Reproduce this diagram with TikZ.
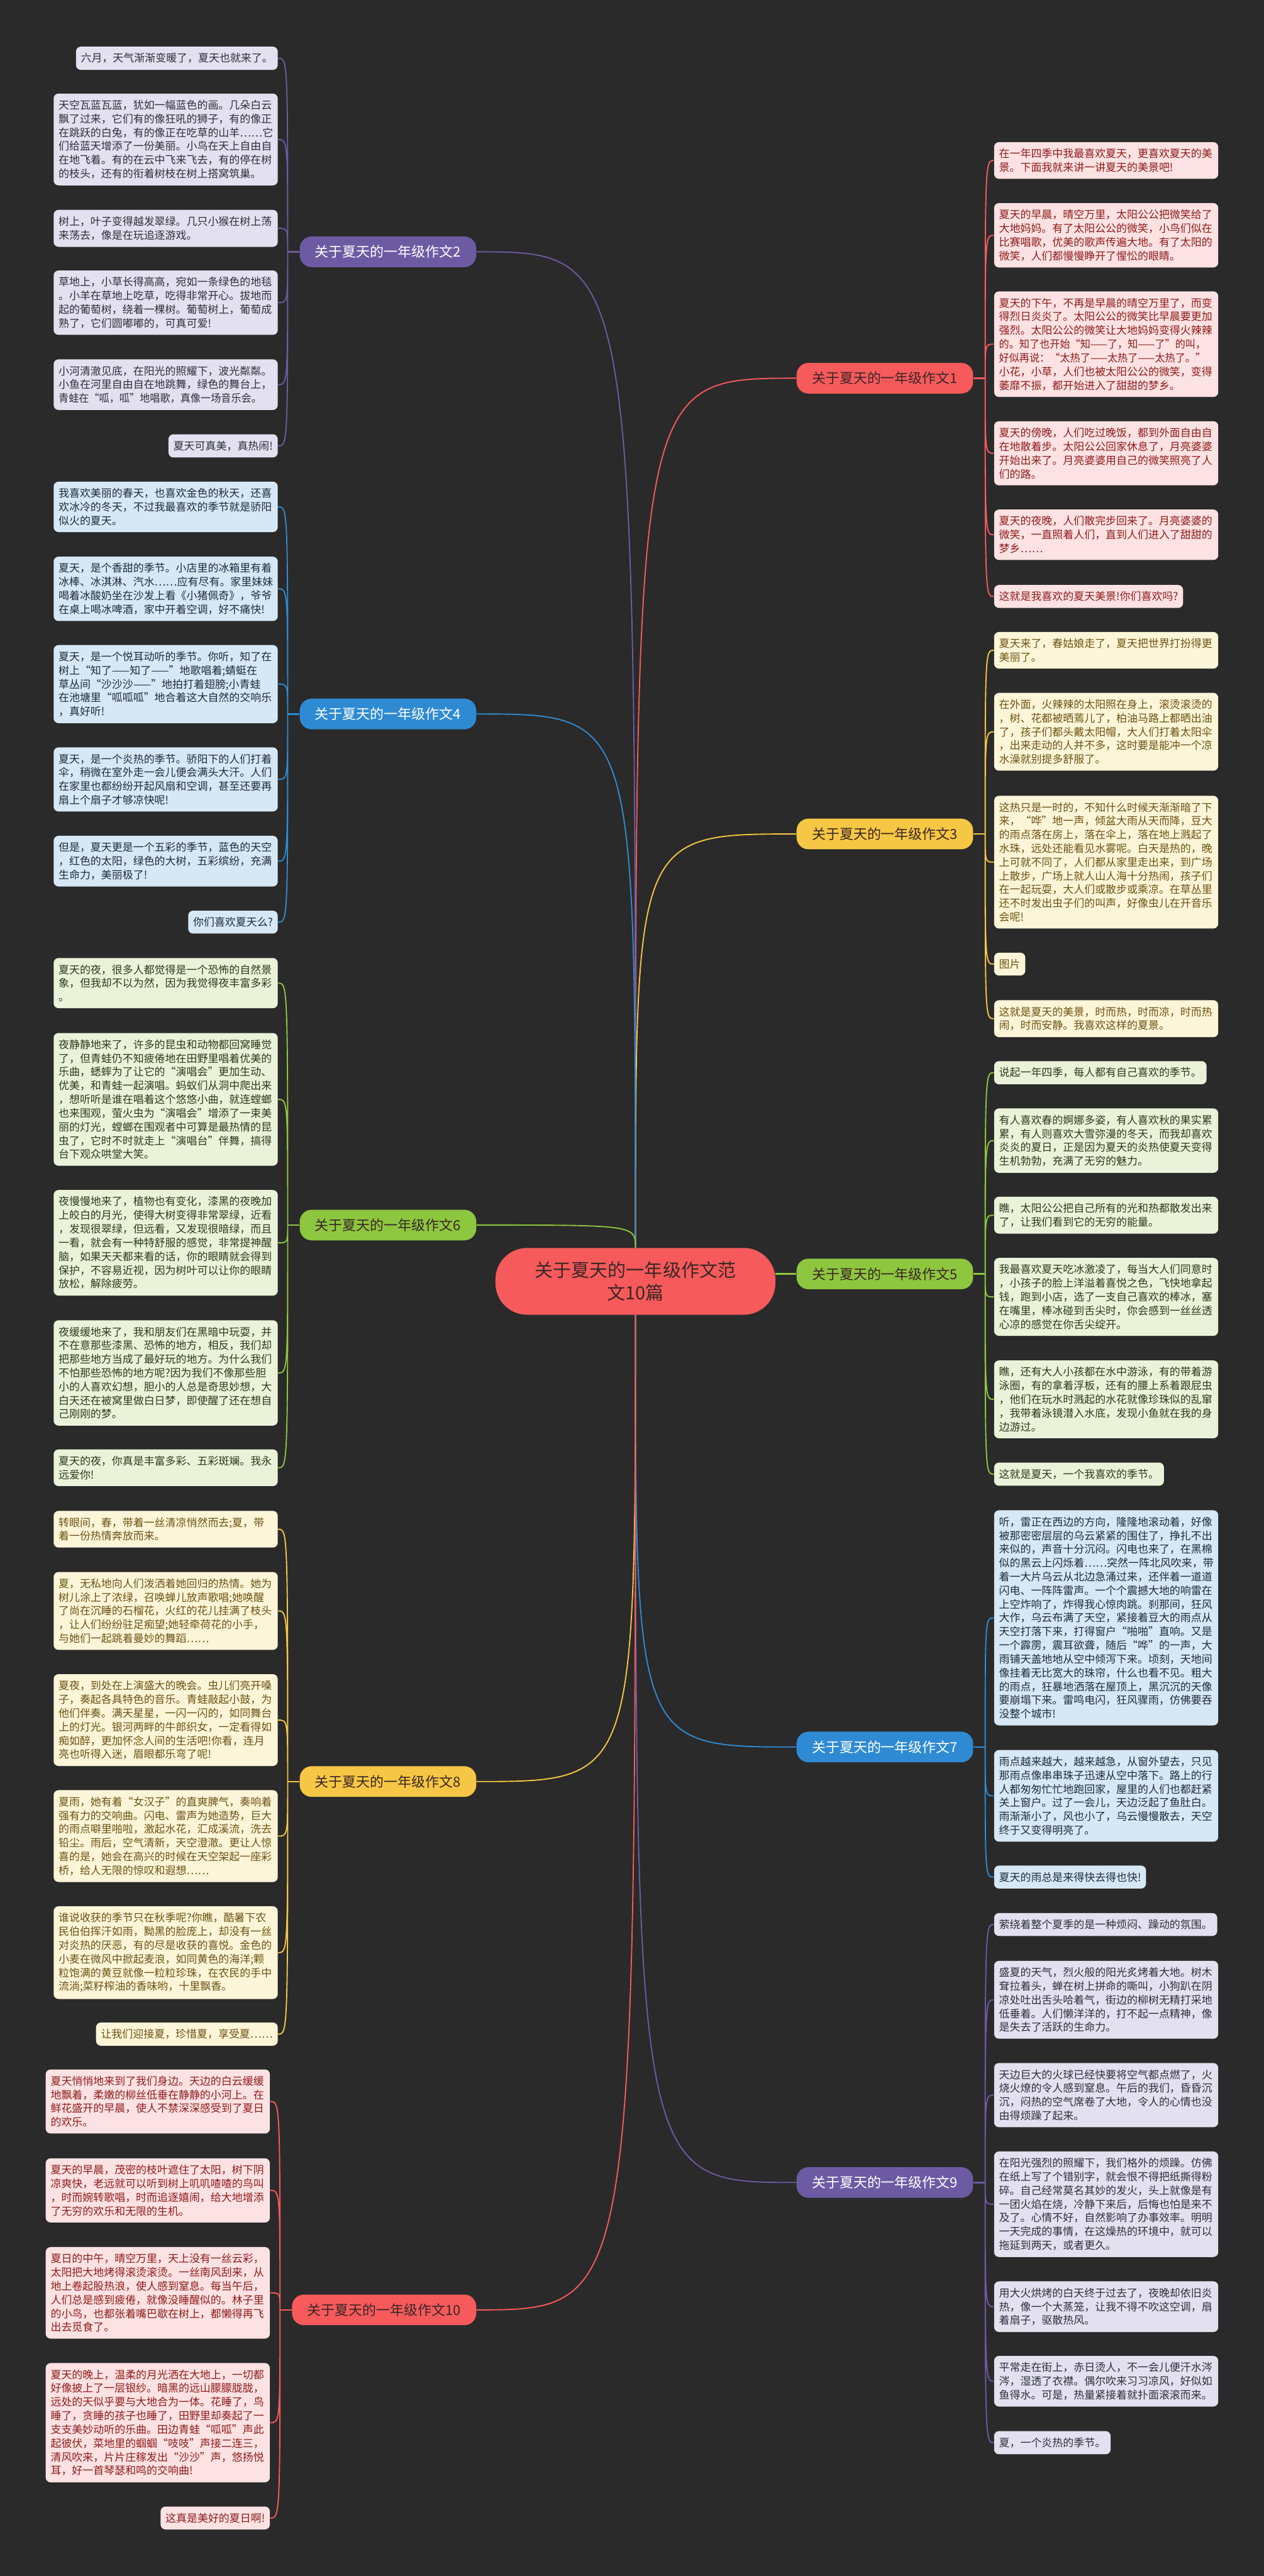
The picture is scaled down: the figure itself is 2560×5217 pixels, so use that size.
\documentclass[tikz,border=0pt]{standalone}
\usepackage{fontspec}
\setmainfont{Noto Sans CJK SC}
\usepackage{graphicx}
\usepackage{xcolor}
\usepackage{tikz}

\definecolor{bgdark}{HTML}{2A2A2A}
\definecolor{rootred}{HTML}{F65A5B}
\definecolor{roottext}{HTML}{3A2626}
\definecolor{purp}{HTML}{6C5BA3}
\definecolor{yell}{HTML}{F6C744}
\definecolor{blu}{HTML}{2E8BD3}
\definecolor{grn}{HTML}{8DC63F}
\definecolor{lavfill}{HTML}{E3E0EF}
\definecolor{lavtext}{HTML}{2F2F3A}
\definecolor{creamfill}{HTML}{FDF5D8}
\definecolor{creamtext}{HTML}{6B5212}
\definecolor{bluefill}{HTML}{D6E8F6}
\definecolor{bluetext}{HTML}{1E2B3A}
\definecolor{greenfill}{HTML}{EAF3D9}
\definecolor{greentext}{HTML}{2C3A1A}
\definecolor{pinkfill}{HTML}{FCE2E2}
\definecolor{pinktext}{HTML}{8E1B1B}

\newcommand{\leaffont}{\fontsize{10.8pt}{13.9pt}\selectfont}
\newcommand{\topicfont}{\fontsize{14pt}{17pt}\selectfont}
\newcommand{\rootfont}{\fontsize{18.5pt}{23pt}\selectfont}
\newcommand{\squeezeline}[1]{\scalebox{0.952}[1]{#1}}

\begin{document}
\begin{tikzpicture}[
x=0.5pt, y=0.5pt,
leaf/.style={rounded corners=5pt, inner xsep=5pt, inner ysep=6.6pt, align=left, font=\leaffont},
para/.style={leaf, text width=217pt},
lav/.style={fill=lavfill, text=lavtext},
cream/.style={fill=creamfill, text=creamtext},
sky/.style={fill=bluefill, text=bluetext},
leafgreen/.style={fill=greenfill, text=greentext},
pink/.style={fill=pinkfill, text=pinktext},
topic/.style={rounded corners=12pt, inner xsep=15.5pt, inner ysep=9pt, font=\topicfont},
link/.style={line width=1.2pt},
stem/.style={line width=1.6pt}
]
\fill[bgdark] (0,0) rectangle (2560,-5217);
\useasboundingbox (0,0) rectangle (2560,-5217);

% centre
\node[fill=rootred, text=roottext, rounded corners=32pt, inner xsep=40pt, inner ysep=13.75pt, align=center, font=\rootfont] (root) at (1287,-2595) {关于夏天的一年级作文范\\文10篇};

% main topics
\node[topic, fill=rootred, text=roottext, anchor=west] (b1) at (1613,-766) {关于夏天的一年级作文1};
\node[topic, fill=purp, text=white, anchor=east] (b2) at (965,-510) {关于夏天的一年级作文2};
\node[topic, fill=yell, text=roottext, anchor=west] (b3) at (1613,-1689) {关于夏天的一年级作文3};
\node[topic, fill=blu, text=white, anchor=east] (b4) at (965,-1446) {关于夏天的一年级作文4};
\node[topic, fill=grn, text=roottext, anchor=west] (b5) at (1613,-2580) {关于夏天的一年级作文5};
\node[topic, fill=grn, text=roottext, anchor=east] (b6) at (965,-2481) {关于夏天的一年级作文6};
\node[topic, fill=blu, text=white, anchor=west] (b7) at (1613,-3538) {关于夏天的一年级作文7};
\node[topic, fill=yell, text=roottext, anchor=east] (b8) at (965,-3608) {关于夏天的一年级作文8};
\node[topic, fill=purp, text=white, anchor=west] (b9) at (1613,-4420) {关于夏天的一年级作文9};
\node[topic, fill=rootred, text=roottext, anchor=east] (b10) at (965,-4678) {关于夏天的一年级作文10};

\coordinate (j1) at ([xshift=12pt]b1.east);
\coordinate (j3) at ([xshift=12pt]b3.east);
\coordinate (j5) at ([xshift=12pt]b5.east);
\coordinate (j7) at ([xshift=12pt]b7.east);
\coordinate (j9) at ([xshift=12pt]b9.east);
\coordinate (j2) at ([xshift=-12pt]b2.west);
\coordinate (j4) at ([xshift=-12pt]b4.west);
\coordinate (j6) at ([xshift=-12pt]b6.west);
\coordinate (j8) at ([xshift=-12pt]b8.west);
\coordinate (j10) at ([xshift=-12pt]b10.west);

% essay 2
\node[leaf, lav, anchor=east] (c2a) at (563,-118) {六月，天气渐渐变暖了，夏天也就来了。};
\node[para, lav, anchor=east] (c2b) at (563,-282.5) {天空瓦蓝瓦蓝，犹如一幅蓝色的画。几朵白云\\飘了过来，它们有的像狂吼的狮子，有的像正\\在跳跃的白兔，有的像正在吃草的山羊……它\\们给蓝天增添了一份美丽。小鸟在天上自由自\\在地飞着。有的在云中飞来飞去，有的停在树\\的枝头，还有的衔着树枝在树上搭窝筑巢。};
\node[para, lav, anchor=east] (c2c) at (563,-462.5) {树上，叶子变得越发翠绿。几只小猴在树上荡\\来荡去，像是在玩追逐游戏。};
\node[para, lav, anchor=east] (c2d) at (563,-613) {草地上，小草长得高高，宛如一条绿色的地毯\\。小羊在草地上吃草，吃得非常开心。拔地而\\起的葡萄树，绕着一棵树。葡萄树上，葡萄成\\熟了，它们圆嘟嘟的，可真可爱!};
\node[para, lav, anchor=east] (c2e) at (563,-779) {小河清澈见底，在阳光的照耀下，波光粼粼。\\小鱼在河里自由自在地跳舞，绿色的舞台上，\\\squeezeline{青蛙在“呱，呱”地唱歌，真像一场音乐会。}};
\node[leaf, lav, anchor=east] (c2f) at (563,-903) {夏天可真美，真热闹!};

% essay 4
\node[para, sky, anchor=east] (c4a) at (563,-1026.5) {我喜欢美丽的春天，也喜欢金色的秋天，还喜\\欢冰冷的冬天，不过我最喜欢的季节就是骄阳\\似火的夏天。};
\node[para, sky, anchor=east] (c4b) at (563,-1192.5) {夏天，是个香甜的季节。小店里的冰箱里有着\\冰棒、冰淇淋、汽水……应有尽有。家里妹妹\\喝着冰酸奶坐在沙发上看《小猪佩奇》，爷爷\\在桌上喝冰啤酒，家中开着空调，好不痛快!};
\node[para, sky, anchor=east] (c4c) at (563,-1385.5) {夏天，是一个悦耳动听的季节。你听，知了在\\树上“知了——知了——”地歌唱着;蜻蜓在\\草丛间“沙沙沙——”地拍打着翅膀;小青蛙\\在池塘里“呱呱呱”地合着这大自然的交响乐\\，真好听!};
\node[para, sky, anchor=east] (c4d) at (563,-1578.5) {夏天，是一个炎热的季节。骄阳下的人们打着\\伞，稍微在室外走一会儿便会满头大汗。人们\\在家里也都纷纷开起风扇和空调，甚至还要再\\扇上个扇子才够凉快呢!};
\node[para, sky, anchor=east] (c4e) at (563,-1744) {但是，夏天更是一个五彩的季节，蓝色的天空\\，红色的太阳，绿色的大树，五彩缤纷，充满\\生命力，美丽极了!};
\node[leaf, sky, anchor=east] (c4f) at (563,-1867.5) {你们喜欢夏天么?};

% essay 6
\node[para, leafgreen, anchor=east] (c6a) at (563,-1991) {夏天的夜，很多人都觉得是一个恐怖的自然景\\象，但我却不以为然，因为我觉得夜丰富多彩\\。};
\node[para, leafgreen, anchor=east] (c6b) at (563,-2226.5) {夜静静地来了，许多的昆虫和动物都回窝睡觉\\了，但青蛙仍不知疲倦地在田野里唱着优美的\\乐曲，蟋蟀为了让它的“演唱会”更加生动、\\优美，和青蛙一起演唱。蚂蚁们从洞中爬出来\\，想听听是谁在唱着这个悠悠小曲，就连螳螂\\也来围观，萤火虫为“演唱会”增添了一束美\\丽的灯光，螳螂在围观者中可算是最热情的昆\\虫了，它时不时就走上“演唱台”伴舞，搞得\\台下观众哄堂大笑。};
\node[para, leafgreen, anchor=east] (c6c) at (563,-2517) {夜慢慢地来了，植物也有变化，漆黑的夜晚加\\上皎白的月光，使得大树变得非常翠绿，近看\\，发现很翠绿，但远看，又发现很暗绿，而且\\一看，就会有一种特舒服的感觉，非常提神醒\\脑，如果天天都来看的话，你的眼睛就会得到\\保护，不容易近视，因为树叶可以让你的眼睛\\放松，解除疲劳。};
\node[para, leafgreen, anchor=east] (c6d) at (563,-2780.5) {夜缓缓地来了，我和朋友们在黑暗中玩耍，并\\不在意那些漆黑、恐怖的地方，相反，我们却\\把那些地方当成了最好玩的地方。为什么我们\\不怕那些恐怖的地方呢?因为我们不像那些胆\\小的人喜欢幻想，胆小的人总是奇思妙想，大\\白天还在被窝里做白日梦，即使醒了还在想自\\己刚刚的梦。};
\node[para, leafgreen, anchor=east] (c6e) at (563,-2972.5) {夏天的夜，你真是丰富多彩、五彩斑斓。我永\\远爱你!};

% essay 8
\node[para, cream, anchor=east] (c8a) at (563,-3097) {转眼间，春，带着一丝清凉悄然而去;夏，带\\着一份热情奔放而来。};
\node[para, cream, anchor=east] (c8b) at (563,-3262.5) {夏，无私地向人们泼洒着她回归的热情。她为\\树儿涂上了浓绿，召唤蝉儿放声歌唱;她唤醒\\了尚在沉睡的石榴花，火红的花儿挂满了枝头\\，让人们纷纷驻足痴望;她轻牵荷花的小手，\\与她们一起跳着曼妙的舞蹈……};
\node[para, cream, anchor=east] (c8c) at (563,-3483.5) {夏夜，到处在上演盛大的晚会。虫儿们亮开嗓\\子，奏起各具特色的音乐。青蛙敲起小鼓，为\\他们伴奏。满天星星，一闪一闪的，如同舞台\\上的灯光。银河两畔的牛郎织女，一定看得如\\痴如醉，更加怀念人间的生活吧!你看，连月\\亮也听得入迷，眉眼都乐弯了呢!};
\node[para, cream, anchor=east] (c8d) at (563,-3718.5) {夏雨，她有着“女汉子”的直爽脾气，奏响着\\强有力的交响曲。闪电、雷声为她造势，巨大\\的雨点噼里啪啦，激起水花，汇成溪流，洗去\\铅尘。雨后，空气清新，天空澄澈。更让人惊\\喜的是，她会在高兴的时候在天空架起一座彩\\桥，给人无限的惊叹和遐想……};
\node[para, cream, anchor=east] (c8e) at (563,-3954.5) {谁说收获的季节只在秋季呢?你瞧，酷暑下农\\民伯伯挥汗如雨，黝黑的脸庞上，却没有一丝\\对炎热的厌恶，有的尽是收获的喜悦。金色的\\小麦在微风中掀起麦浪，如同黄色的海洋;颗\\粒饱满的黄豆就像一粒粒珍珠，在农民的手中\\流淌;菜籽榨油的香味哟，十里飘香。};
\node[leaf, cream, anchor=east] (c8f) at (563,-4119.5) {让我们迎接夏，珍惜夏，享受夏……};

% essay 10
\node[para, pink, anchor=east] (c10a) at (547,-4256) {夏天悄悄地来到了我们身边。天边的白云缓缓\\地飘着，柔嫩的柳丝低垂在静静的小河上。在\\鲜花盛开的早晨，使人不禁深深感受到了夏日\\的欢乐。};
\node[para, pink, anchor=east] (c10b) at (547,-4436) {夏天的早晨，茂密的枝叶遮住了太阳，树下阴\\凉爽快，老远就可以听到树上叽叽喳喳的鸟叫\\，时而婉转歌唱，时而追逐嬉闹，给大地增添\\了无穷的欢乐和无限的生机。};
\node[para, pink, anchor=east] (c10c) at (547,-4643.5) {夏日的中午，晴空万里，天上没有一丝云彩，\\太阳把大地烤得滚烫滚烫。一丝南风刮来，从\\地上卷起股热浪，使人感到窒息。每当午后，\\人们总是感到疲倦，就像没睡醒似的。林子里\\的小鸟，也都张着嘴巴歇在树上，都懒得再飞\\出去觅食了。};
\node[para, pink, anchor=east] (c10d) at (547,-4906.5) {夏天的晚上，温柔的月光洒在大地上，一切都\\好像披上了一层银纱。暗黑的远山朦朦胧胧，\\远处的天似乎要与大地合为一体。花睡了，鸟\\睡了，贪睡的孩子也睡了，田野里却奏起了一\\支支美妙动听的乐曲。田边青蛙“呱呱”声此\\起彼伏，菜地里的蝈蝈“吱吱”声接二连三，\\清风吹来，片片庄稼发出“沙沙”声，悠扬悦\\耳，好一首琴瑟和鸣的交响曲!};
\node[leaf, pink, anchor=east] (c10e) at (547,-5099.5) {这真是美好的夏日啊!};

% essay 1
\node[para, pink, anchor=west] (c1a) at (2013,-325) {在一年四季中我最喜欢夏天，更喜欢夏天的美\\景。下面我就来讲一讲夏天的美景吧!};
\node[para, pink, anchor=west] (c1b) at (2013,-476.5) {夏天的早晨，晴空万里，太阳公公把微笑给了\\大地妈妈。有了太阳公公的微笑，小鸟们似在\\比赛唱歌，优美的歌声传遍大地。有了太阳的\\微笑，人们都慢慢睁开了惺忪的眼睛。};
\node[para, pink, anchor=west] (c1c) at (2013,-697) {夏天的下午，不再是早晨的晴空万里了，而变\\得烈日炎炎了。太阳公公的微笑比早晨要更加\\强烈。太阳公公的微笑让大地妈妈变得火辣辣\\\squeezeline{的。知了也开始“知——了，知——了”的叫，}\\\squeezeline{好似再说：“太热了——太热了——太热了。”}\\小花，小草，人们也被太阳公公的微笑，变得\\萎靡不振，都开始进入了甜甜的梦乡。};
\node[para, pink, anchor=west] (c1d) at (2013,-918) {夏天的傍晚，人们吃过晚饭，都到外面自由自\\在地散着步。太阳公公回家休息了，月亮婆婆\\开始出来了。月亮婆婆用自己的微笑照亮了人\\们的路。};
\node[para, pink, anchor=west] (c1e) at (2013,-1083) {夏天的夜晚，人们散完步回来了。月亮婆婆的\\微笑，一直照着人们，直到人们进入了甜甜的\\梦乡……};
\node[leaf, pink, anchor=west] (c1f) at (2013,-1208) {这就是我喜欢的夏天美景!你们喜欢吗?};

% essay 3
\node[para, cream, anchor=west] (c3a) at (2013,-1317) {夏天来了，春姑娘走了，夏天把世界打扮得更\\美丽了。};
\node[para, cream, anchor=west] (c3b) at (2013,-1482) {在外面，火辣辣的太阳照在身上，滚烫滚烫的\\，树、花都被晒蔫儿了，柏油马路上都晒出油\\了，孩子们都头戴太阳帽，大人们打着太阳伞\\，出来走动的人并不多，这时要是能冲一个凉\\水澡就别提多舒服了。};
\node[para, cream, anchor=west] (c3c) at (2013,-1746) {这热只是一时的，不知什么时候天渐渐暗了下\\来，“哗”地一声，倾盆大雨从天而降，豆大\\的雨点落在房上，落在伞上，落在地上溅起了\\水珠，远处还能看见水雾呢。白天是热的，晚\\上可就不同了，人们都从家里走出来，到广场\\上散步，广场上就人山人海十分热闹，孩子们\\在一起玩耍，大人们或散步或乘凉。在草丛里\\还不时发出虫子们的叫声，好像虫儿在开音乐\\会呢!};
\node[leaf, cream, anchor=west] (c3d) at (2013,-1952.5) {图片};
\node[para, cream, anchor=west] (c3e) at (2013,-2063) {这就是夏天的美景，时而热，时而凉，时而热\\闹，时而安静。我喜欢这样的夏景。};

% essay 5
\node[leaf, leafgreen, anchor=west] (c5a) at (2013,-2172.5) {说起一年四季，每人都有自己喜欢的季节。};
\node[para, leafgreen, anchor=west] (c5b) at (2013,-2310) {有人喜欢春的婀娜多姿，有人喜欢秋的果实累\\累，有人则喜欢大雪弥漫的冬天，而我却喜欢\\炎炎的夏日，正是因为夏天的炎热使夏天变得\\生机勃勃，充满了无穷的魅力。};
\node[para, leafgreen, anchor=west] (c5c) at (2013,-2461) {瞧，太阳公公把自己所有的光和热都散发出来\\了，让我们看到它的无穷的能量。};
\node[para, leafgreen, anchor=west] (c5d) at (2013,-2626.5) {我最喜欢夏天吃冰激凌了，每当大人们同意时\\，小孩子的脸上洋溢着喜悦之色，飞快地拿起\\钱，跑到小店，选了一支自己喜欢的棒冰，塞\\在嘴里，棒冰碰到舌尖时，你会感到一丝丝透\\心凉的感觉在你舌尖绽开。};
\node[para, leafgreen, anchor=west] (c5e) at (2013,-2834) {瞧，还有大人小孩都在水中游泳，有的带着游\\泳圈，有的拿着浮板，还有的腰上系着跟屁虫\\，他们在玩水时溅起的水花就像珍珠似的乱窜\\，我带着泳镜潜入水底，发现小鱼就在我的身\\边游过。};
\node[leaf, leafgreen, anchor=west] (c5f) at (2013,-2985.5) {这就是夏天，一个我喜欢的季节。};

% essay 7
\node[para, sky, anchor=west] (c7a) at (2013,-3276.5) {听，雷正在西边的方向，隆隆地滚动着，好像\\被那密密层层的乌云紧紧的围住了，挣扎不出\\来似的，声音十分沉闷。闪电也来了，在黑棉\\似的黑云上闪烁着……突然一阵北风吹来，带\\着一大片乌云从北边急涌过来，还伴着一道道\\闪电、一阵阵雷声。一个个震撼大地的响雷在\\上空炸响了，炸得我心惊肉跳。刹那间，狂风\\大作，乌云布满了天空，紧接着豆大的雨点从\\天空打落下来，打得窗户“啪啪”直响。又是\\一个霹雳，震耳欲聋，随后“哗”的一声，大\\雨铺天盖地地从空中倾泻下来。顷刻，天地间\\像挂着无比宽大的珠帘，什么也看不见。粗大\\的雨点，狂暴地洒落在屋顶上，黑沉沉的天像\\要崩塌下来。雷鸣电闪，狂风骤雨，仿佛要吞\\没整个城市!};
\node[para, sky, anchor=west] (c7b) at (2013,-3637) {雨点越来越大，越来越急，从窗外望去，只见\\那雨点像串串珠子迅速从空中落下。路上的行\\人都匆匆忙忙地跑回家，屋里的人们也都赶紧\\关上窗户。过了一会儿，天边泛起了鱼肚白。\\雨渐渐小了，风也小了，乌云慢慢散去，天空\\终于又变得明亮了。};
\node[leaf, sky, anchor=west] (c7c) at (2013,-3801.5) {夏天的雨总是来得快去得也快!};

% essay 9
\node[leaf, lav, anchor=west] (c9a) at (2013,-3897.5) {萦绕着整个夏季的是一种烦闷、躁动的氛围。};
\node[para, lav, anchor=west] (c9b) at (2013,-4050) {盛夏的天气，烈火般的阳光炙烤着大地。树木\\耷拉着头，蝉在树上拼命的嘶叫，小狗趴在阴\\凉处吐出舌头哈着气，街边的柳树无精打采地\\低垂着。人们懒洋洋的，打不起一点精神，像\\是失去了活跃的生命力。};
\node[para, lav, anchor=west] (c9c) at (2013,-4243) {天边巨大的火球已经快要将空气都点燃了，火\\烧火燎的令人感到窒息。午后的我们，昏昏沉\\沉，闷热的空气席卷了大地，令人的心情也没\\由得烦躁了起来。};
\node[para, lav, anchor=west] (c9d) at (2013,-4464) {在阳光强烈的照耀下，我们格外的烦躁。仿佛\\在纸上写了个错别字，就会恨不得把纸撕得粉\\碎。自己经常莫名其妙的发火，头上就像是有\\一团火焰在烧，冷静下来后，后悔也怕是来不\\及了。心情不好，自然影响了办事效率。明明\\一天完成的事情，在这燥热的环境中，就可以\\拖延到两天，或者更久。};
\node[para, lav, anchor=west] (c9e) at (2013,-4671.5) {用大火烘烤的白天终于过去了，夜晚却依旧炎\\热，像一个大蒸笼，让我不得不吹这空调，扇\\着扇子，驱散热风。};
\node[para, lav, anchor=west] (c9f) at (2013,-4822.5) {平常走在街上，赤日烫人，不一会儿便汗水涔\\涔，湿透了衣襟。偶尔吹来习习凉风，好似如\\鱼得水。可是，热量紧接着就扑面滚滚而来。};
\node[leaf, lav, anchor=west] (c9g) at (2013,-4947) {夏，一个炎热的季节。};

% centre to topics
\draw[link, rootred] (root.north) .. controls (root.north |- b1.west) .. (b1.west);
\draw[link, purp] (root.north) .. controls (root.north |- b2.east) .. (b2.east);
\draw[link, yell] (root.north) .. controls (root.north |- b3.west) .. (b3.west);
\draw[link, blu] (root.north) .. controls (root.north |- b4.east) .. (b4.east);
\draw[stem, grn] (root.east |- b5.west) -- (b5.west);
\draw[link, grn] (root.north) .. controls (root.north |- b6.east) .. (b6.east);
\draw[link, blu] (root.south) .. controls (root.south |- b7.west) .. (b7.west);
\draw[link, yell] (root.south) .. controls (root.south |- b8.east) .. (b8.east);
\draw[link, purp] (root.south) .. controls (root.south |- b9.west) .. (b9.west);
\draw[link, rootred] (root.south) .. controls (root.south |- b10.east) .. (b10.east);

% topics to paragraphs
\draw[stem, rootred] (b1.east) -- (j1);
\draw[link, rootred] (j1) .. controls (j1 |- c1a.west) .. (c1a.west)
  (j1) .. controls (j1 |- c1b.west) .. (c1b.west)
  (j1) .. controls (j1 |- c1c.west) .. (c1c.west)
  (j1) .. controls (j1 |- c1d.west) .. (c1d.west)
  (j1) .. controls (j1 |- c1e.west) .. (c1e.west)
  (j1) .. controls (j1 |- c1f.west) .. (c1f.west);
\draw[stem, purp] (b2.west) -- (j2);
\draw[link, purp] (j2) .. controls (j2 |- c2a.east) .. (c2a.east)
  (j2) .. controls (j2 |- c2b.east) .. (c2b.east)
  (j2) .. controls (j2 |- c2c.east) .. (c2c.east)
  (j2) .. controls (j2 |- c2d.east) .. (c2d.east)
  (j2) .. controls (j2 |- c2e.east) .. (c2e.east)
  (j2) .. controls (j2 |- c2f.east) .. (c2f.east);
\draw[stem, yell] (b3.east) -- (j3);
\draw[link, yell] (j3) .. controls (j3 |- c3a.west) .. (c3a.west)
  (j3) .. controls (j3 |- c3b.west) .. (c3b.west)
  (j3) .. controls (j3 |- c3c.west) .. (c3c.west)
  (j3) .. controls (j3 |- c3d.west) .. (c3d.west)
  (j3) .. controls (j3 |- c3e.west) .. (c3e.west);
\draw[stem, blu] (b4.west) -- (j4);
\draw[link, blu] (j4) .. controls (j4 |- c4a.east) .. (c4a.east)
  (j4) .. controls (j4 |- c4b.east) .. (c4b.east)
  (j4) .. controls (j4 |- c4c.east) .. (c4c.east)
  (j4) .. controls (j4 |- c4d.east) .. (c4d.east)
  (j4) .. controls (j4 |- c4e.east) .. (c4e.east)
  (j4) .. controls (j4 |- c4f.east) .. (c4f.east);
\draw[stem, grn] (b5.east) -- (j5);
\draw[link, grn] (j5) .. controls (j5 |- c5a.west) .. (c5a.west)
  (j5) .. controls (j5 |- c5b.west) .. (c5b.west)
  (j5) .. controls (j5 |- c5c.west) .. (c5c.west)
  (j5) .. controls (j5 |- c5d.west) .. (c5d.west)
  (j5) .. controls (j5 |- c5e.west) .. (c5e.west)
  (j5) .. controls (j5 |- c5f.west) .. (c5f.west);
\draw[stem, grn] (b6.west) -- (j6);
\draw[link, grn] (j6) .. controls (j6 |- c6a.east) .. (c6a.east)
  (j6) .. controls (j6 |- c6b.east) .. (c6b.east)
  (j6) .. controls (j6 |- c6c.east) .. (c6c.east)
  (j6) .. controls (j6 |- c6d.east) .. (c6d.east)
  (j6) .. controls (j6 |- c6e.east) .. (c6e.east);
\draw[stem, blu] (b7.east) -- (j7);
\draw[link, blu] (j7) .. controls (j7 |- c7a.west) .. (c7a.west)
  (j7) .. controls (j7 |- c7b.west) .. (c7b.west)
  (j7) .. controls (j7 |- c7c.west) .. (c7c.west);
\draw[stem, yell] (b8.west) -- (j8);
\draw[link, yell] (j8) .. controls (j8 |- c8a.east) .. (c8a.east)
  (j8) .. controls (j8 |- c8b.east) .. (c8b.east)
  (j8) .. controls (j8 |- c8c.east) .. (c8c.east)
  (j8) .. controls (j8 |- c8d.east) .. (c8d.east)
  (j8) .. controls (j8 |- c8e.east) .. (c8e.east)
  (j8) .. controls (j8 |- c8f.east) .. (c8f.east);
\draw[stem, purp] (b9.east) -- (j9);
\draw[link, purp] (j9) .. controls (j9 |- c9a.west) .. (c9a.west)
  (j9) .. controls (j9 |- c9b.west) .. (c9b.west)
  (j9) .. controls (j9 |- c9c.west) .. (c9c.west)
  (j9) .. controls (j9 |- c9d.west) .. (c9d.west)
  (j9) .. controls (j9 |- c9e.west) .. (c9e.west)
  (j9) .. controls (j9 |- c9f.west) .. (c9f.west)
  (j9) .. controls (j9 |- c9g.west) .. (c9g.west);
\draw[stem, rootred] (b10.west) -- (j10);
\draw[link, rootred] (j10) .. controls (j10 |- c10a.east) .. (c10a.east)
  (j10) .. controls (j10 |- c10b.east) .. (c10b.east)
  (j10) .. controls (j10 |- c10c.east) .. (c10c.east)
  (j10) .. controls (j10 |- c10d.east) .. (c10d.east)
  (j10) .. controls (j10 |- c10e.east) .. (c10e.east);
\end{tikzpicture}
\end{document}
